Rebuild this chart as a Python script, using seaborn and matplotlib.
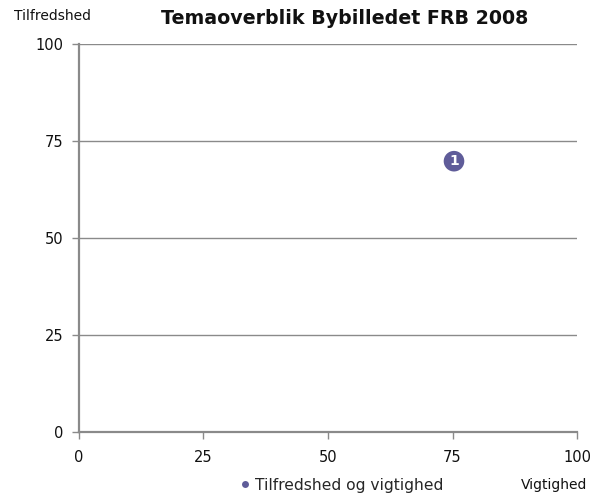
import matplotlib
matplotlib.use("Agg")
import matplotlib.pyplot as plt
from matplotlib.lines import Line2D
import seaborn as sns
import pandas as pd

# data
vigtighed = [75.3]
tilfredshed = [69.8]
punkt_labels = ["1"]
serie_navn = "Tilfredshed og vigtighed"
ticks = [0, 25, 50, 75, 100]

sns.set_theme(style="white")
plt.rcParams["font.family"] = ["DejaVu Sans"]

punkt_farve = "#5F5C99"
graa = "#8a8a8a"

fig = plt.figure(figsize=(5.98, 4.98), dpi=100)
ax = fig.add_axes([0.1321, 0.1325, 0.8328, 0.7791])

df = pd.DataFrame({"Vigtighed": vigtighed, "Tilfredshed": tilfredshed,
                   "serie": [serie_navn] * len(vigtighed)})
sns.scatterplot(data=df, x="Vigtighed", y="Tilfredshed", hue="serie",
                palette=[punkt_farve], s=220, edgecolor="none", ax=ax,
                legend=False, zorder=3)
for x, y, t in zip(vigtighed, tilfredshed, punkt_labels):
    ax.text(x, y, t, color="white", ha="center", va="center",
            fontweight="bold", fontsize=10, zorder=4)

ax.set_xlim(0, 100)
ax.set_ylim(0, 100)
ax.set_xticks(ticks)
ax.set_yticks(ticks)
ax.set_xlabel("")
ax.set_ylabel("")

# horizontal gridlines only
ax.yaxis.grid(True, color=graa, linewidth=1)
ax.xaxis.grid(False)
ax.set_axisbelow(True)

for side in ["top", "right"]:
    ax.spines[side].set_visible(False)
for side in ["left", "bottom"]:
    ax.spines[side].set_color(graa)
    ax.spines[side].set_linewidth(1.6)

ax.tick_params(axis="x", direction="out", length=5, width=1, color=graa,
               pad=8, labelsize=10.5, labelcolor="#111111", bottom=True)
ax.tick_params(axis="y", direction="out", length=5, width=1, color=graa,
               pad=6, labelsize=10.5, labelcolor="#111111", left=True)

fig.text(0.577, 0.963, "Temaoverblik Bybilledet FRB 2008", ha="center",
         va="center", fontsize=13.7, fontweight="bold", color="#111111")
fig.text(0.023, 0.968, "Tilfredshed", ha="left", va="center",
         fontsize=10, color="#111111")
fig.text(0.982, 0.026, "Vigtighed", ha="right", va="center",
         fontsize=10, color="#111111")

handle = Line2D([], [], marker="o", linestyle="none", markersize=5,
                markerfacecolor=punkt_farve, markeredgecolor="none")
fig.legend([handle], [serie_navn], loc="center", bbox_to_anchor=(0.569, 0.026),
           frameon=False, fontsize=11.2, handletextpad=0.1, handlelength=1,
           borderpad=0)

fig.savefig("out.png", dpi=100)
